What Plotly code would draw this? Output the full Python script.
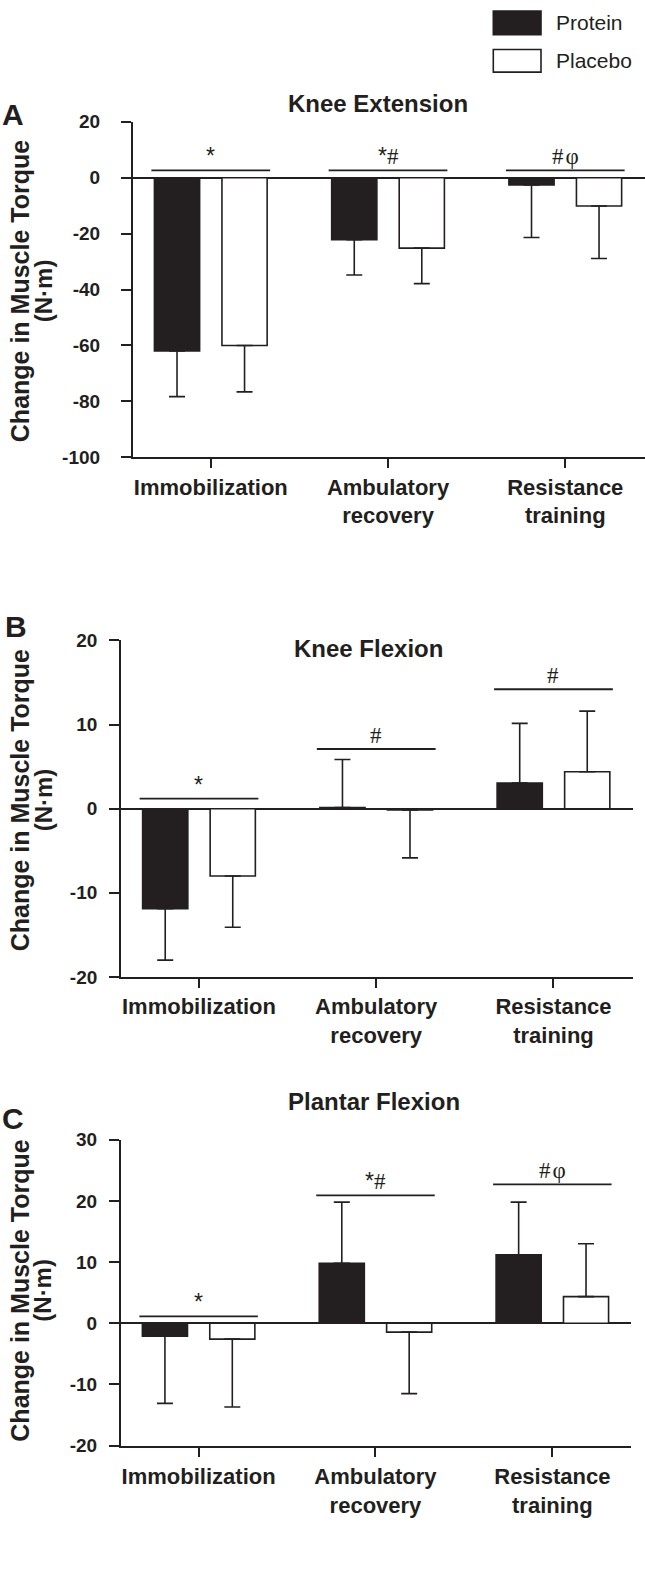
import plotly.graph_objects as go

# ---------------- data ----------------
categories = ["Immobilization", "Ambulatory<br>recovery", "Resistance<br>training"]
group_names = ["Protein", "Placebo"]

# Panel A - Knee Extension
ke_protein = [-62.0, -22.2, -2.6]
ke_protein_sd = [16.3, 12.6, 18.8]
ke_placebo = [-60.0, -25.2, -10.1]
ke_placebo_sd = [16.6, 12.7, 18.8]
ke_sig_level = [2.6, 2.6, 2.6]
ke_sig_text = ["*", "*#", "#\u200aφ"]
ke_ticks = [-100, -80, -60, -40, -20, 0, 20]

# Panel B - Knee Flexion
kf_protein = [-11.9, 0.15, 3.05]
kf_protein_sd = [6.1, 5.7, 7.1]
kf_placebo = [-8.0, -0.15, 4.4]
kf_placebo_sd = [6.1, 5.7, 7.2]
kf_sig_level = [1.2, 7.1, 14.2]
kf_sig_text = ["*", "#", "#"]
kf_ticks = [-20, -10, 0, 10, 20]

# Panel C - Plantar Flexion
pf_protein = [-2.1, 9.8, 11.2]
pf_protein_sd = [11.0, 10.0, 8.6]
pf_placebo = [-2.6, -1.45, 4.35]
pf_placebo_sd = [11.1, 10.05, 8.65]
pf_sig_level = [1.13, 20.9, 22.7]
pf_sig_text = ["*", "*#", "#\u200aφ"]
pf_ticks = [-20, -10, 0, 10, 20, 30]

panel_titles = ["Knee Extension", "Knee Flexion", "Plantar Flexion"]
panel_letters = ["A", "B", "C"]
y_title = "Change in Muscle Torque"
y_unit = "(N·m)"

# ---------------- layout geometry (pixels) ----------------
W, H = 645, 1575
INK = "#231f20"
SANS = "Liberation Sans, Arial, sans-serif"
SERIF = "Liberation Serif, Times New Roman, serif"


def px(x):
    return x / W


def py(y):
    return 1 - y / H


panels = [
    dict(protein=ke_protein, protein_sd=ke_protein_sd, placebo=ke_placebo, placebo_sd=ke_placebo_sd,
         sig=ke_sig_level, sigtext=ke_sig_text, ticks=ke_ticks,
         xdom=(132.8, 644.5), ydom=(113.3, 453.3), title_xy=(377.6, 95), letter_xy=(13, 106),
         ytitle_y=285, ystandoff=17, xstandoff=0),
    dict(protein=kf_protein, protein_sd=kf_protein_sd, placebo=kf_placebo, placebo_sd=kf_placebo_sd,
         sig=kf_sig_level, sigtext=kf_sig_text, ticks=kf_ticks,
         xdom=(121, 632.7), ydom=(639, 980), title_xy=(369, 647), letter_xy=(16, 625),
         ytitle_y=801, ystandoff=8, xstandoff=0),
    dict(protein=pf_protein, protein_sd=pf_protein_sd, placebo=pf_placebo, placebo_sd=pf_placebo_sd,
         sig=pf_sig_level, sigtext=pf_sig_text, ticks=pf_ticks,
         xdom=(120.8, 631.4), ydom=(1145, 1455), title_xy=(373.5, 1106), letter_xy=(13, 1123),
         ytitle_y=1298, ystandoff=8, xstandoff=1),
]

BAR_W = 0.255
OFFSETS = [-0.318, 0.063]
FILLS = [INK, "white"]
XRANGE = [-0.44, 2.447]
SIG_HALF = 0.335

fig = go.Figure()
shapes = []
annotations = []
xpos = list(range(len(categories)))


def one_sided(vals, sds):
    up = [sd if v >= 0 else 0 for v, sd in zip(vals, sds)]
    down = [sd if v < 0 else 0 for v, sd in zip(vals, sds)]
    return up, down


def sig_markup(txt):
    # asterisk in sans, the rest (#, φ) in serif
    out = ""
    for ch in txt:
        if ch == "*":
            out += f'<span style="font-family:{SANS}">*</span>'
        else:
            out += ch
    return out


for k, p in enumerate(panels):
    sfx = "" if k == 0 else str(k + 1)
    xa, ya = "x" + sfx, "y" + sfx
    series = [(p["protein"], p["protein_sd"]), (p["placebo"], p["placebo_sd"])]
    for g, (vals, sds) in enumerate(series):
        up, down = one_sided(vals, sds)
        fig.add_trace(go.Bar(
            x=xpos, y=vals, name=group_names[g], width=BAR_W, offset=OFFSETS[g],
            marker=dict(color=FILLS[g], line=dict(color=INK, width=1.6)),
            error_y=dict(type="data", symmetric=False, array=up, arrayminus=down,
                         color=INK, thickness=1.6, width=8),
            xaxis=xa, yaxis=ya, showlegend=False,
        ))
    ticks = p["ticks"]
    fig.layout["xaxis" + sfx] = dict(
        domain=[px(p["xdom"][0]), px(p["xdom"][1])], anchor=ya, range=XRANGE,
        tickmode="array", tickvals=xpos, ticktext=categories,
        showline=True, linecolor=INK, linewidth=1.8, ticks="outside", ticklen=9,
        tickwidth=1.8, tickcolor=INK, showgrid=False, zeroline=False,
        ticklabelstandoff=p["xstandoff"],
        tickfont=dict(family=SANS, size=22, color=INK, weight="bold"),
    )
    fig.layout["yaxis" + sfx] = dict(
        domain=[py(p["ydom"][1]), py(p["ydom"][0])], anchor=xa,
        range=[ticks[0], ticks[-1]], tickmode="array", tickvals=ticks,
        ticktext=[str(t) for t in ticks],
        showline=True, linecolor=INK, linewidth=1.8, ticks="outside", ticklen=10,
        tickwidth=1.8, tickcolor=INK, showgrid=False,
        zeroline=True, zerolinecolor=INK, zerolinewidth=1.8,
        ticklabelstandoff=p["ystandoff"],
        tickfont=dict(family=SANS, size=19, color=INK, weight="bold"),
    )
    # significance lines and symbols
    for i, (lvl, txt) in enumerate(zip(p["sig"], p["sigtext"])):
        shapes.append(dict(type="line", xref=xa, yref=ya, x0=i - SIG_HALF, x1=i + SIG_HALF,
                           y0=lvl, y1=lvl, line=dict(color=INK, width=1.8)))
        annotations.append(dict(xref=xa, yref=ya, x=i, y=lvl, text=sig_markup(txt), showarrow=False,
                                yanchor="bottom", yshift=-1,
                                font=dict(family=SERIF, size=23, color=INK)))
    # panel title
    tx, ty = p["title_xy"]
    annotations.append(dict(xref="paper", yref="paper", x=px(tx), y=py(ty), text=panel_titles[k],
                            showarrow=False, xanchor="center", yanchor="middle",
                            font=dict(family=SANS, size=24, color=INK, weight="bold")))
    lx, ly = p["letter_xy"]
    annotations.append(dict(xref="paper", yref="paper", x=px(lx), y=py(ly), text=panel_letters[k],
                            showarrow=False, xanchor="center", yanchor="middle",
                            font=dict(family=SANS, size=30, color=INK, weight="bold")))
    # y-axis titles (two lines)
    annotations.append(dict(xref="paper", yref="paper", x=px(20), y=py(p["ytitle_y"]), text=y_title,
                            textangle=-90, showarrow=False, xanchor="center", yanchor="middle",
                            font=dict(family=SANS, size=25, color=INK, weight="bold")))
    annotations.append(dict(xref="paper", yref="paper", x=px(43), y=py(p["ytitle_y"]), text=y_unit,
                            textangle=-90, showarrow=False, xanchor="center", yanchor="middle",
                            font=dict(family=SANS, size=24, color=INK, weight="bold")))

# legend (drawn manually)
legend_rows = [(1, 25), (40, 63)]
for g, (y0, y1) in enumerate(legend_rows):
    shapes.append(dict(type="rect", xref="paper", yref="paper", x0=px(493.3), x1=px(541),
                       y0=py(y1), y1=py(y0), fillcolor=FILLS[g], line=dict(color=INK, width=1.6)))
    annotations.append(dict(xref="paper", yref="paper", x=px(554), y=py((y0 + y1) / 2),
                            text=group_names[g], showarrow=False, xanchor="left", yanchor="middle",
                            font=dict(family=SANS, size=21, color=INK)))

fig.update_layout(
    width=W, height=H, margin=dict(l=0, r=0, t=0, b=0),
    paper_bgcolor="white", plot_bgcolor="white",
    shapes=shapes, annotations=annotations, barmode="overlay",
)

fig.write_html(
    "out.html",
    config={"displayModeBar": False},
    post_script="document.body.style.margin='0';document.body.style.overflow='hidden';",
)
